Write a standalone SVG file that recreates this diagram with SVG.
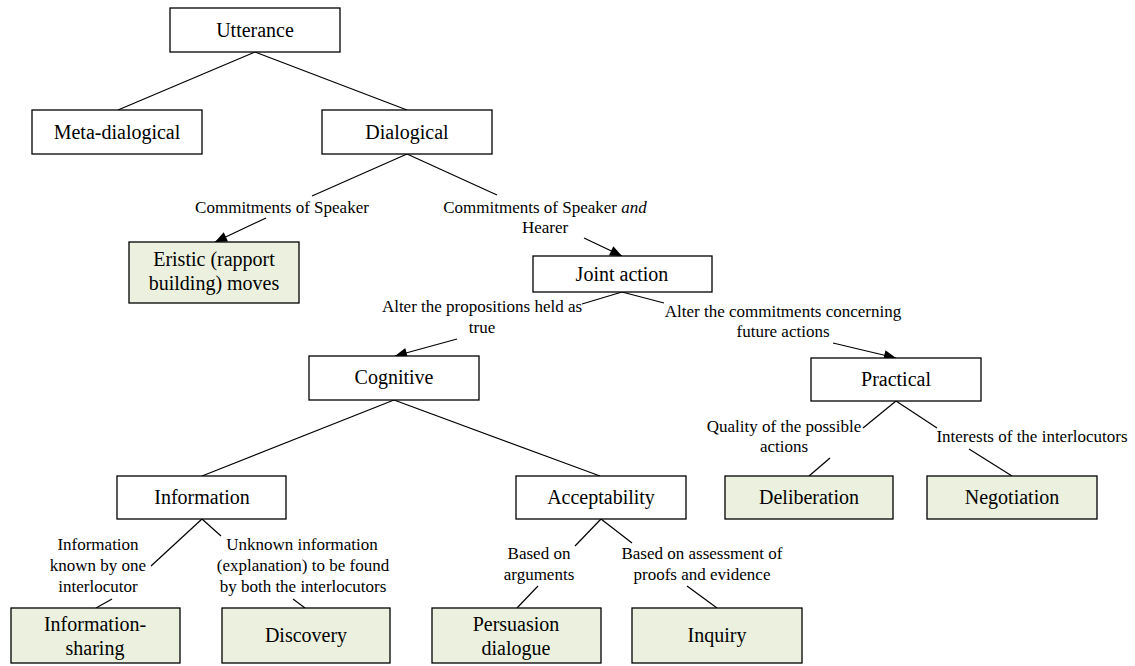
<svg xmlns="http://www.w3.org/2000/svg" width="1135" height="666" viewBox="0 0 1135 666">
<style>
.box{fill:#ffffff;stroke:#000;stroke-width:1.3}
.leaf{fill:#ebf1de;stroke:#000;stroke-width:1.3}
.nt{font-family:"Liberation Serif","Times New Roman",serif;font-size:20px;fill:#000;text-anchor:middle}
.lt{font-family:"Liberation Serif","Times New Roman",serif;font-size:17px;fill:#000;text-anchor:middle}
.ln{stroke:#000;stroke-width:1.2;fill:none}
.ar{stroke:#000;stroke-width:1.2;fill:none;marker-end:url(#ah)}
</style>
<defs>
<marker id="ah" viewBox="0 0 12 10" refX="12" refY="5" markerWidth="13" markerHeight="10" markerUnits="userSpaceOnUse" orient="auto">
<path d="M0,0 L12,5 L0,10 Z" fill="#000"/>
</marker>
</defs>
<rect width="1135" height="666" fill="#fff"/>
<g id="connectors">
<line class="ln" x1="255" y1="52" x2="118" y2="110"/>
<line class="ln" x1="255" y1="52" x2="407" y2="110"/>
<line class="ln" x1="407" y1="154" x2="312" y2="196"/>
<line class="ar" x1="266" y1="218" x2="215" y2="242"/>
<line class="ln" x1="407" y1="154" x2="497" y2="195"/>
<line class="ar" x1="584" y1="238" x2="622" y2="256"/>
<line class="ln" x1="622" y1="292" x2="582" y2="304"/>
<line class="ar" x1="457" y1="339" x2="395" y2="356"/>
<line class="ln" x1="622" y1="292" x2="664" y2="303"/>
<line class="ar" x1="833" y1="343" x2="896" y2="358"/>
<line class="ln" x1="394" y1="400" x2="202" y2="476"/>
<line class="ln" x1="394" y1="400" x2="600" y2="476"/>
<line class="ln" x1="896" y1="401" x2="863" y2="428"/>
<line class="ln" x1="896" y1="401" x2="937" y2="428"/>
<line class="ln" x1="830" y1="458" x2="809" y2="476"/>
<line class="ln" x1="969" y1="449" x2="1012" y2="476"/>
<line class="ln" x1="202" y1="519" x2="151" y2="566"/>
<line class="ln" x1="202" y1="519" x2="221" y2="536"/>
<line class="ln" x1="112" y1="599" x2="96" y2="608"/>
<line class="ln" x1="293" y1="599" x2="305" y2="608"/>
<line class="ln" x1="601" y1="519" x2="575" y2="546"/>
<line class="ln" x1="601" y1="519" x2="632" y2="543"/>
<line class="ln" x1="538" y1="586" x2="517" y2="608"/>
<line class="ln" x1="687" y1="586" x2="717" y2="608"/>
</g>
<g id="labels">
<text class="lt" x="282" y="213">Commitments of Speaker</text>
<text class="lt" x="545" y="213">Commitments of Speaker <tspan font-style="italic">and</tspan></text>
<text class="lt" x="545" y="233">Hearer</text>
<text class="lt" x="482" y="312">Alter the propositions held as</text>
<text class="lt" x="482" y="333">true</text>
<text class="lt" x="783" y="317">Alter the commitments concerning</text>
<text class="lt" x="783" y="337">future actions</text>
<text class="lt" x="784" y="432">Quality of the possible</text>
<text class="lt" x="784" y="452">actions</text>
<text class="lt" x="1032" y="442">Interests of the interlocutors</text>
<text class="lt" x="98" y="550">Information</text>
<text class="lt" x="98" y="571">known by one</text>
<text class="lt" x="98" y="592">interlocutor</text>
<text class="lt" x="302" y="550">Unknown information</text>
<text class="lt" x="303" y="571">(explanation) to be found</text>
<text class="lt" x="303" y="592">by both the interlocutors</text>
<text class="lt" x="539" y="559">Based on</text>
<text class="lt" x="539" y="580">arguments</text>
<text class="lt" x="702" y="559">Based on assessment of</text>
<text class="lt" x="702" y="580">proofs and evidence</text>
</g>
<g id="utterance"><rect class="box" x="170" y="8" width="170" height="44"/><text class="nt" x="255" y="37">Utterance</text></g>
<g id="meta-dialogical"><rect class="box" x="32" y="110" width="170" height="44"/><text class="nt" x="117" y="139">Meta-dialogical</text></g>
<g id="dialogical"><rect class="box" x="322" y="110" width="170" height="44"/><text class="nt" x="407" y="139">Dialogical</text></g>
<g id="eristic"><rect class="leaf" x="129" y="242" width="170" height="61"/><text class="nt" x="214" y="266">Eristic (rapport</text><text class="nt" x="214" y="290">building) moves</text></g>
<g id="joint-action"><rect class="box" x="533" y="256" width="179" height="36"/><text class="nt" x="622" y="281">Joint action</text></g>
<g id="cognitive"><rect class="box" x="309" y="356" width="170" height="44"/><text class="nt" x="394" y="384">Cognitive</text></g>
<g id="practical"><rect class="box" x="811" y="358" width="170" height="43"/><text class="nt" x="896" y="386">Practical</text></g>
<g id="information"><rect class="box" x="117" y="476" width="169" height="43"/><text class="nt" x="202" y="504">Information</text></g>
<g id="acceptability"><rect class="box" x="516" y="476" width="170" height="43"/><text class="nt" x="601" y="504">Acceptability</text></g>
<g id="deliberation"><rect class="leaf" x="725" y="476" width="168" height="43"/><text class="nt" x="809" y="504">Deliberation</text></g>
<g id="negotiation"><rect class="leaf" x="927" y="476" width="170" height="43"/><text class="nt" x="1012" y="504">Negotiation</text></g>
<g id="information-sharing"><rect class="leaf" x="11" y="608" width="169" height="55"/><text class="nt" x="95" y="631">Information-</text><text class="nt" x="95" y="655">sharing</text></g>
<g id="discovery"><rect class="leaf" x="222" y="608" width="168" height="55"/><text class="nt" x="306" y="642">Discovery</text></g>
<g id="persuasion"><rect class="leaf" x="432" y="608" width="169" height="55"/><text class="nt" x="516" y="631">Persuasion</text><text class="nt" x="516" y="655">dialogue</text></g>
<g id="inquiry"><rect class="leaf" x="632" y="608" width="170" height="55"/><text class="nt" x="717" y="642">Inquiry</text></g>
</svg>
